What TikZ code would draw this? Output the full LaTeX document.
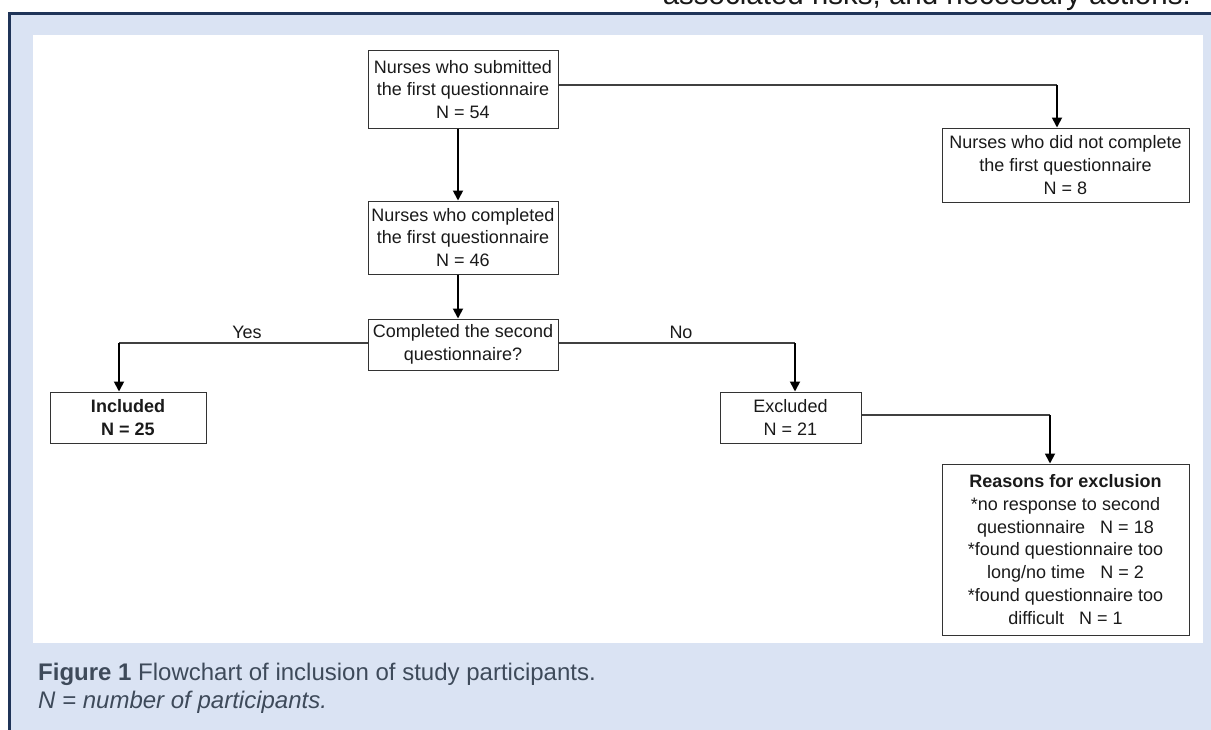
\documentclass[tikz,border=0pt]{standalone}
\usepackage{fontspec}
\setmainfont{Liberation Sans}
\usetikzlibrary{arrows.meta}
\definecolor{bgblue}{HTML}{DAE3F3}
\definecolor{navy}{HTML}{1F3458}
\definecolor{captxt}{HTML}{3E4A5A}
\definecolor{boxtxt}{HTML}{1A1A1A}
\begin{document}
\begin{tikzpicture}[x=1pt,y=-1pt,
  box/.style={draw=black!80, line width=1pt, fill=white, inner sep=0pt, align=center,
    text=boxtxt, font=\fontsize{18}{22.8}\selectfont},
  flow/.style={draw=black, line width=1.8pt, -{Triangle[width=10pt,length=10pt]}},
  link/.style={draw=black!75, line width=1.1pt},
  lbl/.style={text=boxtxt, font=\fontsize{18}{20}\selectfont, inner sep=0pt}]
\useasboundingbox (0,0) rectangle (1211,729);
% frame
\fill[bgblue] (8,12) rectangle (1220,740);
\draw[navy, line width=3pt] (9.5,740) -- (9.5,13.5) -- (1220,13.5);
\fill[white] (33,35) rectangle (1203,643);
\node[anchor=base east, inner sep=0pt, font=\fontsize{29.5}{30}\selectfont, text=black!90] (top) at (1191,4) {associated risks, and necessary actions.};
% boxes
\node[box, minimum width=190pt, minimum height=78pt] (b1) at (463,89.5) {Nurses who submitted\\the first questionnaire\\N = 54};
\node[box, minimum width=190pt, minimum height=73pt] (b2) at (463,237.5) {Nurses who completed\\the first questionnaire\\N = 46};
\node[box, minimum width=190pt, minimum height=51pt] (dec) at (463,344.5) {Completed the second\\questionnaire?};
\node[box, minimum width=247pt, minimum height=74pt] (b8) at (1065.5,165) {Nurses who did not complete\\the first questionnaire\\N = 8};
\node[box, minimum width=156pt, minimum height=51pt] (inc) at (128,417.5) {\textbf{Included}\\\textbf{N = 25}};
\node[box, minimum width=141pt, minimum height=51pt] (exc) at (790.5,417.5) {Excluded\\N = 21};
\node[box, minimum width=247pt, minimum height=171pt] (rea) at (1065.5,549.5) {\textbf{Reasons for exclusion}\\*no response to second\\questionnaire\ \ \ N = 18\\*found questionnaire too\\long/no time\ \ \ N = 2\\*found questionnaire too\\difficult\ \ \ N = 1};
% turning points
\coordinate (t1) at (1057,85);
\coordinate (ty) at (119,343);
\coordinate (tn) at (795,343);
\coordinate (te) at (1050,415);
% connectors
\draw[flow] ([xshift=-5pt]b1.south) -- ([xshift=-5pt]b1.south |- b2.north);
\draw[flow] ([xshift=-5pt]b2.south) -- ([xshift=-5pt]b2.south |- dec.north);
\draw[link] (b1.east |- t1) -- (t1);
\draw[flow] (t1) -- (t1 |- b8.north);
\draw[link] (dec.west |- ty) -- (ty);
\draw[flow] (ty) -- (ty |- inc.north);
\draw[link] (dec.east |- tn) -- (tn);
\draw[flow] (tn) -- (tn |- exc.north);
\draw[link] (exc.east |- te) -- (te);
\draw[flow] (te) -- (te |- rea.north);
\node[lbl, anchor=base] (yes) at (247,338) {Yes};
\node[lbl, anchor=base] (no) at (681,338) {No};
% caption
\node[anchor=base west, inner sep=0pt, text=captxt, font=\fontsize{24}{28}\selectfont] (cap1) at (38,680) {\textbf{Figure 1} Flowchart of inclusion of study participants.};
\node[anchor=base west, inner sep=0pt, text=captxt, font=\fontsize{24}{28}\selectfont\itshape] (cap2) at (38,708) {N = number of participants.};
\end{tikzpicture}
\end{document}
